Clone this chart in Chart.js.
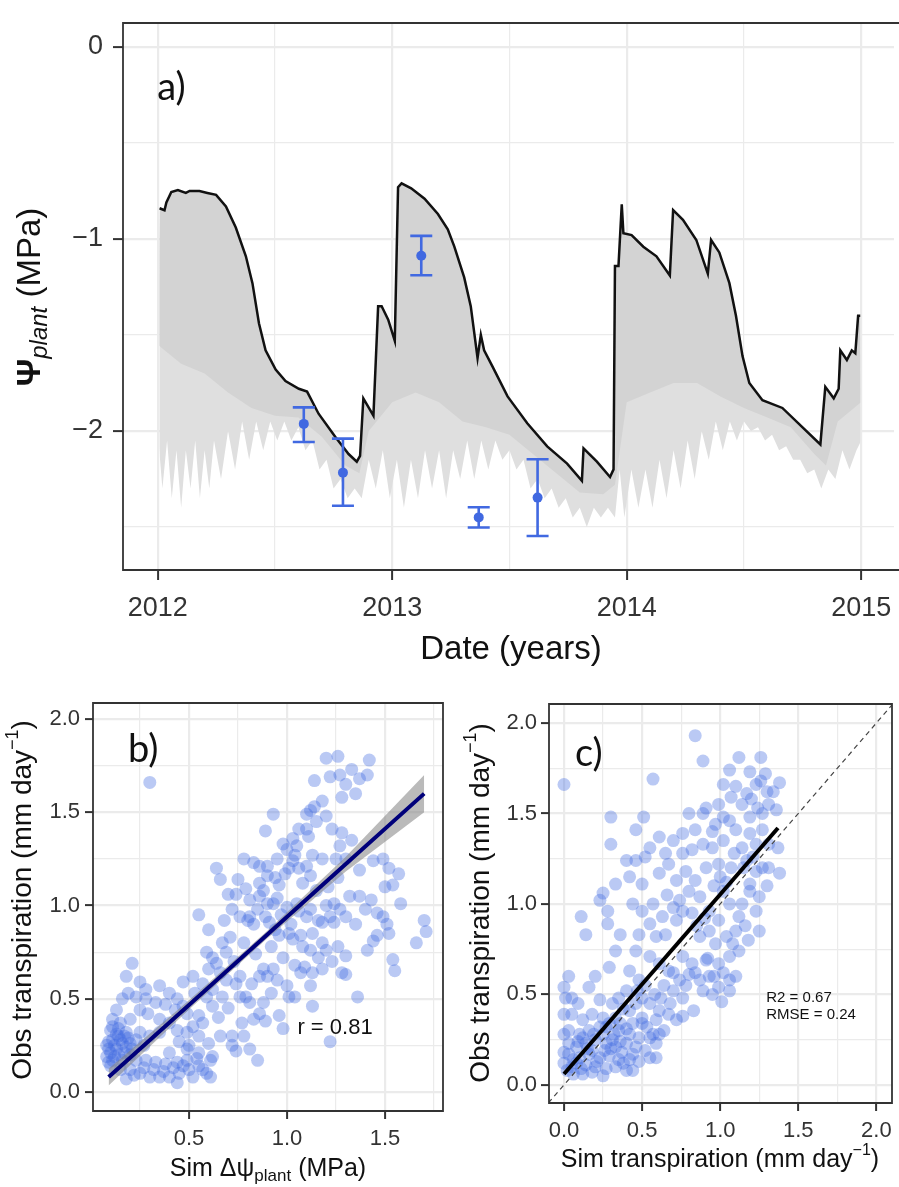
<!DOCTYPE html>
<html>
<head>
<meta charset="utf-8">
<script src="https://cdn.jsdelivr.net/npm/chart.js@4.4.1/dist/chart.umd.min.js"></script>
<style>
  body { margin: 0; background: #fff; }
  #wrap { position: relative; width: 899px; height: 1187px; overflow: hidden; }
  canvas { position: absolute; }
</style>
</head>
<body>
<div id="wrap">
  <canvas id="chartA" width="899" height="670" style="left:0;top:0"></canvas>
  <canvas id="chartB" width="450" height="517" style="left:0;top:670px"></canvas>
  <canvas id="chartC" width="449" height="517" style="left:450px;top:670px"></canvas>
</div>
<script>
// ---------- panel a: predawn plant water potential ----------
let psiYear = [2012.008, 2012.029, 2012.037, 2012.058, 2012.086, 2012.12, 2012.136, 2012.178, 2012.212, 2012.249,
  2012.291, 2012.333, 2012.376, 2012.404, 2012.432, 2012.46, 2012.503, 2012.545, 2012.602, 2012.637,
  2012.686, 2012.757, 2012.814, 2012.849, 2012.863, 2012.877, 2012.92, 2012.94, 2012.955, 2012.983,
  2013.011, 2013.025, 2013.04, 2013.081, 2013.138, 2013.195, 2013.237, 2013.265, 2013.307, 2013.335,
  2013.364, 2013.378, 2013.392, 2013.428, 2013.492, 2013.576, 2013.661, 2013.746, 2013.809, 2013.816,
  2013.873, 2013.929, 2013.944, 2013.95, 2013.965, 2013.979, 2013.986, 2014.021, 2014.071, 2014.127,
  2014.184, 2014.198, 2014.24, 2014.297, 2014.346, 2014.36, 2014.395, 2014.438, 2014.466, 2014.494,
  2014.523, 2014.579, 2014.664, 2014.749, 2014.826, 2014.847, 2014.883, 2014.904, 2014.911, 2014.939,
  2014.96, 2014.975, 2014.987, 2014.996];
let psiPredawn = [-0.84, -0.85, -0.81, -0.755, -0.745, -0.76, -0.75, -0.75, -0.76, -0.77,
  -0.83, -0.94, -1.09, -1.23, -1.44, -1.58, -1.68, -1.74, -1.78, -1.795,
  -1.91, -2.03, -2.12, -2.16, -2.13, -1.83, -1.92, -1.35, -1.35, -1.42,
  -1.53, -0.73, -0.71, -0.736, -0.79, -0.87, -0.95, -1.04, -1.2, -1.35,
  -1.62, -1.5, -1.58, -1.665, -1.82, -1.96, -2.08, -2.17, -2.26, -2.09,
  -2.16, -2.24, -2.2, -1.14, -1.14, -0.82, -0.97, -0.98, -1.04, -1.09,
  -1.19, -0.85, -0.9, -1.005, -1.18, -1.005, -1.07, -1.23, -1.4, -1.61,
  -1.75, -1.84, -1.88, -1.98, -2.07, -1.77, -1.83, -1.78, -1.58, -1.63,
  -1.58, -1.595, -1.4, -1.4];

// bottom of the solid grey daily range
let denseYear = [2012.0, 2012.1, 2012.2, 2012.3, 2012.4, 2012.5, 2012.6, 2012.7, 2012.8, 2012.86, 2012.9,
  2013.0, 2013.1, 2013.2, 2013.3, 2013.4, 2013.5, 2013.6, 2013.7, 2013.8, 2013.9, 2013.95,
  2014.0, 2014.1, 2014.2, 2014.3, 2014.4, 2014.5, 2014.6, 2014.7, 2014.8, 2014.85, 2014.9, 2015.0];
let denseMin = [-1.55, -1.65, -1.7, -1.8, -1.88, -1.92, -1.93, -2.03, -2.18, -2.22, -2.0,
  -1.85, -1.8, -1.85, -1.95, -1.98, -2.02, -2.12, -2.22, -2.32, -2.33, -2.28,
  -1.85, -1.8, -1.75, -1.75, -1.82, -1.88, -1.93, -1.98, -2.12, -2.18, -1.95, -1.85];

// deepest midday values (light streaks)
let streakYear = [2012.0, 2012.02, 2012.04, 2012.06, 2012.08, 2012.1, 2012.12, 2012.14, 2012.16, 2012.18,
  2012.2, 2012.22, 2012.24, 2012.27, 2012.3, 2012.33, 2012.36, 2012.39, 2012.42, 2012.45,
  2012.48, 2012.51, 2012.54, 2012.57, 2012.6, 2012.63, 2012.66, 2012.69, 2012.72, 2012.75,
  2012.78, 2012.81, 2012.84, 2012.87, 2012.9, 2012.93, 2012.96, 2012.99, 2013.02, 2013.05,
  2013.08, 2013.11, 2013.14, 2013.17, 2013.2, 2013.23, 2013.26, 2013.29, 2013.32, 2013.35,
  2013.38, 2013.41, 2013.44, 2013.47, 2013.5, 2013.53, 2013.56, 2013.59, 2013.62, 2013.65,
  2013.68, 2013.71, 2013.74, 2013.77, 2013.8, 2013.83, 2013.86, 2013.89, 2013.92, 2013.95,
  2013.97, 2013.99, 2014.02, 2014.05, 2014.08, 2014.11, 2014.14, 2014.17, 2014.2, 2014.23,
  2014.26, 2014.29, 2014.32, 2014.35, 2014.38, 2014.41, 2014.44, 2014.47, 2014.5, 2014.53,
  2014.56, 2014.59, 2014.62, 2014.65, 2014.68, 2014.71, 2014.74, 2014.77, 2014.8, 2014.83,
  2014.86, 2014.89, 2014.92, 2014.95, 2014.98, 2015.0];
let streakMin = [-2.0, -2.3, -2.05, -2.35, -2.1, -2.4, -2.1, -2.3, -2.05, -2.35,
  -2.1, -2.3, -2.05, -2.25, -2.0, -2.2, -1.95, -2.15, -1.95, -2.1,
  -1.95, -2.05, -1.95, -2.05, -1.98, -2.1, -2.05, -2.2, -2.15, -2.3,
  -2.25, -2.35, -2.3, -2.35, -2.15, -2.3, -2.1, -2.35, -2.15, -2.4,
  -2.15, -2.35, -2.1, -2.3, -2.1, -2.35, -2.1, -2.25, -2.05, -2.25,
  -2.05, -2.2, -2.05, -2.15, -2.1, -2.2, -2.15, -2.3, -2.25, -2.35,
  -2.3, -2.4, -2.35, -2.45, -2.4, -2.5, -2.4, -2.45, -2.4, -2.45,
  -2.2, -2.45, -2.2, -2.4, -2.2, -2.4, -2.15, -2.35, -2.1, -2.3,
  -2.05, -2.25, -2.0, -2.15, -1.95, -2.1, -1.95, -2.05, -1.95, -2.0,
  -1.98, -2.05, -2.02, -2.1, -2.08, -2.15, -2.15, -2.22, -2.2, -2.3,
  -2.2, -2.25, -2.1, -2.2, -2.1, -2.05];

// observed values with error bars
let obsYear = [2012.623, 2012.79, 2013.124, 2013.369, 2013.62];
let obsMean = [-1.963, -2.217, -1.087, -2.45, -2.347];
let obsLow = [-2.057, -2.389, -1.189, -2.503, -2.547];
let obsHigh = [-1.877, -2.04, -0.984, -2.397, -2.147];

let aXTicks = [2012, 2012.5, 2013, 2013.5, 2014, 2014.5, 2015];
let aXLabels = [2012, 2013, 2014, 2015];
let aYTicks = [-2.5, -2, -1.5, -1, -0.5, 0];
let aYLabels = [-2, -1, 0];

// ---------- panel b: obs transpiration vs sim delta psi ----------
let bX = [0.30,
  1.20, 1.26, 1.42, 1.33, 1.41, 1.14, 1.22, 1.27, 1.30, 1.37, 1.28, 1.18, 1.14, 1.10, 1.12,
  0.93, 0.89, 1.03, 1.06, 1.10, 1.11, 1.23, 1.28, 1.27, 0.98, 1.05, 1.13, 1.04, 1.03, 1.01,
  0.78, 0.83, 0.86, 0.90, 0.90, 0.86, 0.94, 0.96, 0.99, 1.10, 1.18, 1.25, 1.30, 1.37, 1.44, 1.49, 1.52, 1.57, 1.54, 1.50, 1.58, 1.43, 1.37,
  0.64, 0.66, 0.75, 0.70, 0.74, 0.79, 0.81, 0.86, 0.90, 0.93, 0.95, 1.00, 1.05, 1.06, 1.10, 1.12, 1.20, 1.24, 1.27, 1.22, 1.24, 1.30, 1.18, 1.13,
  0.55, 0.60, 0.72, 0.76, 0.81, 0.83, 0.89, 0.91, 0.94, 0.96, 1.01, 1.03, 1.07, 1.08, 1.12, 1.18, 1.20, 1.26, 1.30, 1.23, 1.28, 1.18, 1.13, 1.09,
  1.46, 1.49, 1.51, 1.46, 1.44, 1.41, 1.52, 1.70, 1.71, 1.66, 1.54, 1.55, 1.30, 1.36, 1.13, 1.22,
  0.59, 0.67, 0.71, 0.69, 0.64, 0.66, 0.60, 0.52, 0.47, 0.53, 0.59, 0.62, 0.67, 0.69, 0.74, 0.76, 0.79, 0.81, 0.86, 0.88, 0.93, 0.95,
  1.00, 1.01, 0.92, 0.88, 0.86, 0.83, 0.89, 0.96, 1.04, 1.07, 1.12, 0.77, 0.72, 0.78, 0.72, 0.81, 0.85, 0.66, 0.60, 0.62, 0.74, 0.98,
  0.21, 0.18, 0.25, 0.28, 0.35, 0.40, 0.44, 0.47, 0.49, 0.43, 0.38, 0.33, 0.28, 0.23, 0.19, 0.16, 0.13, 0.11, 0.15, 0.20, 0.25, 0.29,
  0.35, 0.40, 0.44, 0.49, 0.52, 0.55, 0.35, 0.30, 0.25, 0.18,
  0.10, 0.11, 0.14, 0.16, 0.20, 0.09, 0.13, 0.17, 0.21, 0.08, 0.11, 0.16, 0.23, 0.27, 0.10, 0.15,
  0.09, 0.12, 0.14, 0.18, 0.10, 0.13, 0.15, 0.19, 0.08, 0.12, 0.17, 0.11, 0.14, 0.09, 0.20,
  0.20, 0.25, 0.30, 0.35, 0.40, 0.45, 0.50, 0.55, 0.59, 0.61, 0.54, 0.49, 0.44, 0.38, 0.33, 0.28, 0.23, 0.18, 0.44, 0.52, 0.61, 0.55, 0.49, 0.40,
  0.27, 0.32, 0.37, 0.42, 0.47, 0.22, 0.57,
  0.62, 0.68, 0.73, 0.78, 0.84, 0.88, 0.92, 0.97, 1.02, 1.08, 1.15, 1.16, 1.21, 1.26, 1.32, 1.35, 1.40, 0.98, 0.90, 0.82,
  0.76, 0.70, 0.65, 0.57, 0.55, 0.50, 0.45, 0.62, 0.57, 1.00, 0.95, 1.15, 1.20, 1.06, 1.12, 0.85, 0.80, 1.16, 1.04, 1.33, 1.35];
let bY = [1.66,
  1.79, 1.80, 1.78, 1.73, 1.70, 1.67, 1.69, 1.70, 1.65, 1.68, 1.58, 1.56, 1.53, 1.49, 1.51,
  1.49, 1.40, 1.36, 1.41, 1.41, 1.37, 1.41, 1.39, 1.32, 1.33, 1.32, 1.27, 1.27, 1.24, 1.20,
  1.25, 1.23, 1.21, 1.21, 1.16, 1.12, 1.15, 1.11, 1.17, 1.21, 1.25, 1.25, 1.25, 1.19, 1.24, 1.25, 1.20, 1.17, 1.11, 1.10, 1.01, 1.03, 1.05,
  1.20, 1.14, 1.14, 1.06, 1.06, 1.09, 1.03, 1.05, 1.01, 1.01, 1.04, 0.99, 1.01, 0.97, 0.94, 0.98, 1.00, 1.01, 0.98, 0.94, 0.91, 0.94, 0.91, 0.85,
  0.95, 0.87, 0.98, 0.94, 0.94, 0.90, 0.94, 0.91, 0.87, 0.84, 0.85, 0.82, 0.84, 0.78, 0.76, 0.80, 0.76, 0.78, 0.73, 0.70, 0.64, 0.66, 0.64, 0.67,
  0.96, 0.94, 0.90, 0.84, 0.81, 0.76, 0.85, 0.92, 0.86, 0.80, 0.71, 0.65, 0.63, 0.51, 0.46, 0.27,
  0.75, 0.80, 0.83, 0.75, 0.69, 0.64, 0.66, 0.62, 0.59, 0.53, 0.51, 0.46, 0.51, 0.60, 0.58, 0.51, 0.51, 0.48, 0.62, 0.66, 0.66, 0.60,
  0.57, 0.51, 0.53, 0.48, 0.42, 0.39, 0.38, 0.41, 0.51, 0.64, 0.57, 0.37, 0.30, 0.30, 0.25, 0.23, 0.17, 0.30, 0.26, 0.19, 0.22, 0.34,
  0.69, 0.62, 0.59, 0.55, 0.57, 0.53, 0.50, 0.46, 0.42, 0.44, 0.47, 0.48, 0.50, 0.51, 0.53, 0.50, 0.44, 0.39, 0.37, 0.39, 0.44, 0.42,
  0.39, 0.37, 0.33, 0.32, 0.35, 0.41, 0.32, 0.30, 0.32, 0.32,
  0.33, 0.28, 0.30, 0.26, 0.26, 0.23, 0.23, 0.21, 0.23, 0.19, 0.17, 0.17, 0.28, 0.25, 0.14, 0.12,
  0.27, 0.25, 0.20, 0.24, 0.21, 0.31, 0.28, 0.29, 0.25, 0.19, 0.30, 0.35, 0.34, 0.16, 0.20,
  0.12, 0.10, 0.08, 0.08, 0.08, 0.10, 0.12, 0.14, 0.10, 0.17, 0.18, 0.17, 0.16, 0.15, 0.16, 0.17, 0.17, 0.07, 0.05, 0.08, 0.08, 0.21, 0.23, 0.21,
  0.13, 0.12, 0.11, 0.13, 0.14, 0.09, 0.12,
  0.72, 0.92, 0.70, 0.80, 0.74, 1.08, 0.78, 0.95, 0.90, 1.12, 1.08, 0.92, 1.10, 1.15, 1.05, 0.90, 0.98, 0.72, 0.62, 0.58,
  0.62, 0.45, 0.40, 0.37, 0.30, 0.25, 0.27, 0.55, 0.58, 1.30, 1.25, 1.45, 1.48, 1.20, 1.16, 0.98, 0.92, 0.72, 0.68, 1.35, 1.60];

// fitted line with its confidence band
let bFitX = [0.09, 0.5, 0.9, 1.3, 1.7];
let bFitY = [0.08, 0.467, 0.845, 1.222, 1.60];
let bBandLow = [0.035, 0.442, 0.825, 1.182, 1.50];
let bBandHigh = [0.125, 0.492, 0.865, 1.262, 1.70];

let bXTicks = [0.25, 0.5, 0.75, 1.0, 1.25, 1.5, 1.75];
let bXLabels = [0.5, 1.0, 1.5];
let bYTicks = [0, 0.25, 0.5, 0.75, 1.0, 1.25, 1.5, 1.75, 2.0];
let bYLabels = [0, 0.5, 1.0, 1.5, 2.0];

// ---------- panel c: obs vs sim transpiration ----------
let cX = [0.00, 0.84, 0.89, 0.57, 0.30, 0.30, 0.51, 0.11, 0.14,
  1.12, 1.26, 1.06, 1.19, 1.29, 1.38, 1.02, 1.10, 1.23, 1.30, 1.17, 1.07, 0.99, 0.91, 0.80, 0.89, 1.14, 1.24, 1.31, 1.36, 1.27, 1.19,
  1.06, 0.97, 0.84, 0.76, 0.70, 0.61, 0.55, 0.46, 1.10, 1.19, 1.27, 1.31, 1.37, 1.23, 1.14, 1.02, 0.95, 0.89, 0.82, 0.76, 0.65, 0.52, 0.46,
  0.40, 0.33, 0.25, 0.23, 0.28, 0.28, 0.36, 0.33, 0.29, 0.20, 0.16, 0.03, 0.00, 0.01, 0.05, 0.00, 0.00, 0.00,
  0.42, 0.50, 0.61, 0.67, 0.72, 0.78, 0.84, 0.91, 0.99, 1.07, 1.17, 1.23, 1.31, 1.38, 1.19, 1.25, 1.14, 1.23, 1.12, 1.25, 1.19,
  0.44, 0.50, 0.57, 0.63, 0.55, 0.48, 0.59, 0.65, 0.72, 0.76, 0.80, 0.87, 0.93, 1.02, 1.06, 0.99, 0.93, 0.87, 0.97, 1.04, 1.10, 1.12,
  1.06, 0.99, 0.91, 0.82, 0.76, 0.80, 0.87, 0.93, 0.99, 1.06, 1.10, 1.01, 1.06, 0.95, 0.89, 0.83, 0.76, 0.70, 0.74, 0.67, 0.61, 0.55,
  0.46, 0.42, 0.48, 0.40, 0.35, 0.31, 0.42, 0.50, 0.55, 0.61, 0.67, 0.72, 0.59, 0.50, 0.44, 0.76, 0.61,
  0.03, 0.10, 0.16, 0.23, 0.29, 0.35, 0.42, 0.48, 0.55, 0.59, 0.52, 0.46, 0.40, 0.33, 0.27, 0.20, 0.14, 0.08, 0.03, 0.10, 0.16, 0.23,
  0.29, 0.35, 0.42, 0.48, 0.40, 0.33, 0.27, 0.20, 0.14, 0.08, 0.02, 0.06, 0.12, 0.18, 0.25, 0.44, 0.12, 0.18, 0.25, 0.31, 0.37, 0.44,
  0.50, 0.46, 0.55, 0.59, 0.12, 0.18, 0.25, 0.05, 0.09, 0.23, 0.03, 0.00,
  0.06, 0.15, 0.21, 0.09, 0.30, 0.36, 0.26, 0.19, 0.05, 0.11, 0.38, 0.32,
  0.66, 0.70, 0.74, 0.82, 0.85, 0.90, 0.96, 1.00, 1.04, 1.09, 1.15, 1.21, 1.27, 1.30, 1.16, 1.08, 1.18, 1.02, 0.96, 0.92,
  0.84, 0.78, 0.70, 0.64, 0.58, 0.52, 0.47, 0.38, 0.33, 0.27, 0.36, 0.40, 0.53, 0.57, 0.64, 0.68, 0.62, 1.20, 1.26, 1.34, 0.95, 1.02];
let cY = [1.66, 1.93, 1.79, 1.69, 1.48, 1.33, 1.48, 0.93, 0.83,
  1.81, 1.81, 1.74, 1.73, 1.72, 1.67, 1.66, 1.65, 1.66, 1.62, 1.61, 1.59, 1.55, 1.53, 1.50, 1.50, 1.55, 1.53, 1.55, 1.52, 1.50, 1.48,
  1.46, 1.44, 1.41, 1.39, 1.35, 1.37, 1.31, 1.41, 1.41, 1.39, 1.41, 1.33, 1.31, 1.33, 1.31, 1.35, 1.31, 1.33, 1.30, 1.28, 1.28, 1.26, 1.24,
  1.24, 1.11, 1.06, 1.02, 0.96, 0.89, 0.83, 0.74, 0.65, 0.60, 0.54, 0.60, 0.54, 0.48, 0.48, 0.39, 0.28, 0.18,
  1.15, 1.11, 1.17, 1.22, 1.13, 1.18, 1.13, 1.20, 1.22, 1.20, 1.24, 1.18, 1.20, 1.17, 1.11, 1.04, 1.00, 0.96, 0.93, 0.85, 1.07,
  1.00, 0.96, 1.00, 0.93, 0.89, 0.83, 0.82, 0.83, 0.91, 0.96, 1.07, 1.04, 0.96, 1.07, 1.00, 0.91, 0.85, 0.82, 0.78, 0.82, 0.85, 0.74,
  0.71, 0.67, 0.69, 0.67, 0.71, 0.61, 0.58, 0.60, 0.54, 0.58, 0.60, 0.46, 0.52, 0.50, 0.52, 0.41, 0.48, 0.52, 0.58, 0.63, 0.67, 0.71,
  0.74, 0.63, 0.58, 0.52, 0.48, 0.45, 0.41, 0.48, 0.45, 0.41, 0.39, 0.36, 0.36, 0.37, 0.34, 0.38, 0.28,
  0.30, 0.28, 0.30, 0.32, 0.34, 0.30, 0.28, 0.26, 0.26, 0.23, 0.19, 0.21, 0.23, 0.21, 0.23, 0.25, 0.23, 0.21, 0.17, 0.15, 0.17, 0.15,
  0.16, 0.14, 0.14, 0.13, 0.08, 0.10, 0.09, 0.10, 0.11, 0.12, 0.08, 0.06, 0.06, 0.07, 0.05, 0.08, 0.26, 0.19, 0.28, 0.25, 0.18, 0.17,
  0.34, 0.45, 0.15, 0.15, 0.36, 0.39, 0.37, 0.39, 0.45, 0.47, 0.23, 0.12,
  0.14, 0.20, 0.13, 0.24, 0.20, 0.24, 0.19, 0.28, 0.10, 0.09, 0.12, 0.28,
  1.05, 0.98, 1.02, 0.95, 0.88, 0.92, 1.10, 1.15, 1.12, 1.28, 1.20, 1.26, 1.20, 1.10, 0.88, 0.78, 0.80, 0.62, 0.60, 0.70,
  0.62, 0.55, 0.62, 0.55, 0.50, 0.55, 0.52, 0.42, 0.37, 0.32, 0.34, 0.31, 0.32, 0.28, 0.30, 0.45, 0.48, 1.58, 1.68, 1.62, 1.40, 1.48];

let cFitX = [0.0, 1.37];
let cFitY = [0.06, 1.42];
let oneToOne = [-0.1, 2.1];

let cTicks = [0, 0.25, 0.5, 0.75, 1.0, 1.25, 1.5, 1.75, 2.0];
let cLabels = [0, 0.5, 1.0, 1.5, 2.0];

// ---------- shared bits ----------
const FONT = "'Liberation Sans', Arial, sans-serif";
const PT_COLOR = "rgba(65, 105, 225, 0.36)";
const BLUE = "rgb(65, 105, 225)";

function pts(xs, ys) {
    return xs.map((x, i) => ({ x: x, y: ys[i] }));
}

function makeAxis(isX, min, max, ticks, labels, fmt, size, tickLen, pad, fitSize) {
    return {
        type: "linear",
        min: min,
        max: max,
        afterBuildTicks: (s) => { s.ticks = ticks.map((v) => ({ value: v })); },
        afterFit: (s) => {
            if (isX) {
                s.height = fitSize;
                s.paddingLeft = 0;
                s.paddingRight = 0;
            } else {
                s.width = fitSize;
                s.paddingTop = 0;
                s.paddingBottom = 0;
            }
        },
        ticks: {
            autoSkip: false,
            maxRotation: 0,
            padding: pad,
            color: "#333",
            font: { family: FONT, size: size },
            callback: (v) => labels.includes(v) ? fmt(v) : "",
        },
        grid: {
            color: "#ebebeb",
            lineWidth: (c) => labels.includes(c.tick.value) ? 2.2 : 1.2,
            tickColor: (c) => labels.includes(c.tick.value) ? "#333" : "rgba(0,0,0,0)",
            tickLength: tickLen,
            tickWidth: 2,
        },
        border: { display: false },
    };
}

// box round the plotting area (panel a is cut at the right edge)
const panelBox = {
    id: "panelBox",
    afterDatasetsDraw(chart, args, opts) {
        const a = chart.chartArea;
        const ctx = chart.ctx;
        ctx.save();
        ctx.strokeStyle = "#333";
        ctx.lineWidth = 1.8;
        ctx.beginPath();
        if (opts.openRight) {
            ctx.moveTo(chart.width, a.top);
            ctx.lineTo(a.left, a.top);
            ctx.lineTo(a.left, a.bottom);
            ctx.lineTo(chart.width, a.bottom);
        } else {
            ctx.rect(a.left, a.top, a.right - a.left, a.bottom - a.top);
        }
        ctx.stroke();
        ctx.restore();
    },
};

// text placed at data coordinates (panel letters, stats)
const dataText = {
    id: "dataText",
    afterDatasetsDraw(chart, args, opts) {
        const ctx = chart.ctx;
        (opts.items || []).forEach((it) => {
            const x = chart.scales.x.getPixelForValue(it.x);
            const y = chart.scales.y.getPixelForValue(it.y);
            ctx.save();
            ctx.font = it.font;
            ctx.fillStyle = it.color || "#111";
            ctx.textAlign = it.align || "left";
            ctx.textBaseline = "middle";
            ctx.fillText(it.text, x, y);
            ctx.restore();
        });
    },
};

// axis titles with sub/superscripts
const richTitles = {
    id: "richTitles",
    afterDraw(chart, args, opts) {
        const ctx = chart.ctx;
        (opts.items || []).forEach((it) => {
            ctx.save();
            ctx.translate(it.x, it.y);
            if (it.rotate) ctx.rotate(-Math.PI / 2);
            let total = 0;
            it.parts.forEach((p) => { ctx.font = p.font; total += ctx.measureText(p.text).width; });
            let cx = -total / 2;
            ctx.textAlign = "left";
            ctx.textBaseline = "middle";
            it.parts.forEach((p) => {
                ctx.font = p.font;
                ctx.fillStyle = "#111";
                ctx.fillText(p.text, cx, p.dy || 0);
                cx += ctx.measureText(p.text).width;
            });
            ctx.restore();
        });
    },
};

// error bars for the observations in panel a
const errorBars = {
    id: "errorBars",
    afterDatasetsDraw(chart) {
        const ctx = chart.ctx;
        const xs = chart.scales.x;
        const ys = chart.scales.y;
        ctx.save();
        ctx.strokeStyle = BLUE;
        ctx.lineWidth = 2.6;
        for (let i = 0; i < obsYear.length; i++) {
            const x = xs.getPixelForValue(obsYear[i]);
            const y1 = ys.getPixelForValue(obsLow[i]);
            const y2 = ys.getPixelForValue(obsHigh[i]);
            ctx.beginPath();
            ctx.moveTo(x, y1); ctx.lineTo(x, y2);
            ctx.moveTo(x - 11, y1); ctx.lineTo(x + 11, y1);
            ctx.moveTo(x - 11, y2); ctx.lineTo(x + 11, y2);
            ctx.stroke();
        }
        ctx.restore();
    },
};

Chart.register(panelBox, dataText, richTitles);

const minus = (v) => String(v).replace("-", "\u2212");
const oneDec = (v) => v.toFixed(1);

// ---------- draw panel a ----------
new Chart(document.getElementById("chartA"), {
    type: "line",
    data: {
        datasets: [
            {
                data: pts(psiYear, psiPredawn),
                borderColor: "#111",
                borderWidth: 2.5,
                pointRadius: 0,
                fill: false,
                order: 0,
            },
            {
                data: pts(streakYear, streakMin),
                borderWidth: 0,
                pointRadius: 0,
                backgroundColor: "#dfdfdf",
                fill: "-1",
                order: 3,
            },
            {
                data: pts(denseYear, denseMin),
                borderWidth: 0,
                pointRadius: 0,
                backgroundColor: "#d3d3d3",
                fill: "-2",
                order: 2,
            },
            {
                type: "scatter",
                data: pts(obsYear, obsMean),
                pointRadius: 5,
                backgroundColor: BLUE,
                borderWidth: 0,
                order: -1,
            },
        ],
    },
    options: {
        responsive: false,
        animation: false,
        layout: { padding: { left: 0, top: 23, right: 0, bottom: 0 } },
        scales: {
            x: makeAxis(true, 2011.852, 2015.14, aXTicks, aXLabels, (v) => String(v), 27, 10, 12, 100),
            y: makeAxis(false, -2.724, 0.125, aYTicks, aYLabels, minus, 27, 10, 10, 123),
        },
        plugins: {
            legend: { display: false },
            tooltip: { enabled: false },
            panelBox: { openRight: true },
            dataText: { items: [{ x: 2011.998, y: -0.21, text: "a)", font: "38px Lato, sans-serif" }] },
            richTitles: {
                items: [
                    { x: 31, y: 297, rotate: true, parts: [
                        { text: "\u03a8", font: "bold 34px " + FONT },
                        { text: "plant", font: "italic 24px " + FONT, dy: 9 },
                        { text: " (MPa)", font: "33px " + FONT },
                    ] },
                    { x: 511, y: 650, parts: [{ text: "Date (years)", font: "33px " + FONT }] },
                ],
            },
        },
    },
    plugins: [errorBars],
});

// ---------- draw panel b ----------
new Chart(document.getElementById("chartB"), {
    type: "scatter",
    data: {
        datasets: [
            {
                data: pts(bX, bY),
                pointRadius: 6.5,
                backgroundColor: PT_COLOR,
                borderWidth: 0,
                order: 3,
            },
            {
                type: "line",
                data: pts(bFitX, bBandLow),
                borderWidth: 0,
                pointRadius: 0,
                fill: false,
                order: 2,
            },
            {
                type: "line",
                data: pts(bFitX, bBandHigh),
                borderWidth: 0,
                pointRadius: 0,
                backgroundColor: "rgba(130, 130, 130, 0.55)",
                fill: "-1",
                order: 2,
            },
            {
                type: "line",
                data: pts(bFitX, bFitY),
                borderColor: "#00007a",
                borderWidth: 4,
                pointRadius: 0,
                fill: false,
                order: 1,
            },
        ],
    },
    options: {
        responsive: false,
        animation: false,
        layout: { padding: { left: 0, top: 33, right: 7, bottom: 0 } },
        scales: {
            x: makeAxis(true, 0.0102, 1.796, bXTicks, bXLabels, oneDec, 22, 8, 7, 76),
            y: makeAxis(false, -0.102, 2.086, bYTicks, bYLabels, oneDec, 22, 8, 5, 93),
        },
        plugins: {
            legend: { display: false },
            tooltip: { enabled: false },
            panelBox: {},
            dataText: { items: [
                { x: 0.189, y: 1.834, text: "b)", font: "38px Lato, sans-serif" },
                { x: 1.245, y: 0.343, text: "r = 0.81", font: "22px " + FONT, align: "center" },
            ] },
            richTitles: {
                items: [
                    { x: 23, y: 230, rotate: true, parts: [
                        { text: "Obs transpiration (mm day", font: "28px " + FONT },
                        { text: "\u22121", font: "18px " + FONT, dy: -10 },
                        { text: ")", font: "28px " + FONT },
                    ] },
                    { x: 268, y: 499, parts: [
                        { text: "Sim \u0394\u03c8", font: "25px " + FONT },
                        { text: "plant", font: "17px " + FONT, dy: 7 },
                        { text: " (MPa)", font: "25px " + FONT },
                    ] },
                ],
            },
        },
    },
});

// ---------- draw panel c ----------
new Chart(document.getElementById("chartC"), {
    type: "scatter",
    data: {
        datasets: [
            {
                data: pts(cX, cY),
                pointRadius: 6.5,
                backgroundColor: PT_COLOR,
                borderWidth: 0,
                order: 3,
            },
            {
                type: "line",
                data: pts(oneToOne, oneToOne),
                borderColor: "#444",
                borderWidth: 1.2,
                borderDash: [5, 4],
                pointRadius: 0,
                fill: false,
                order: 2,
            },
            {
                type: "line",
                data: pts(cFitX, cFitY),
                borderColor: "#000",
                borderWidth: 4,
                pointRadius: 0,
                fill: false,
                order: 1,
            },
        ],
    },
    options: {
        responsive: false,
        animation: false,
        layout: { padding: { left: 0, top: 34, right: 7, bottom: 0 } },
        scales: {
            x: makeAxis(true, -0.096, 2.1, cTicks, cLabels, oneDec, 22, 8, 7, 84),
            y: makeAxis(false, -0.1, 2.105, cTicks, cLabels, oneDec, 22, 8, 4, 99),
        },
        plugins: {
            legend: { display: false },
            tooltip: { enabled: false },
            panelBox: {},
            dataText: { items: [
                { x: 0.07, y: 1.829, text: "c)", font: "38px Lato, sans-serif" },
                { x: 1.295, y: 0.48, text: "R2 = 0.67", font: "15px " + FONT },
                { x: 1.295, y: 0.387, text: "RMSE = 0.24", font: "15px " + FONT },
            ] },
            richTitles: {
                items: [
                    { x: 31, y: 233, rotate: true, parts: [
                        { text: "Obs transpiration (mm day", font: "28px " + FONT },
                        { text: "\u22121", font: "18px " + FONT, dy: -10 },
                        { text: ")", font: "28px " + FONT },
                    ] },
                    { x: 270, y: 490, parts: [
                        { text: "Sim transpiration (mm day", font: "25px " + FONT },
                        { text: "\u22121", font: "16px " + FONT, dy: -9 },
                        { text: ")", font: "25px " + FONT },
                    ] },
                ],
            },
        },
    },
});
</script>
</body>
</html>
